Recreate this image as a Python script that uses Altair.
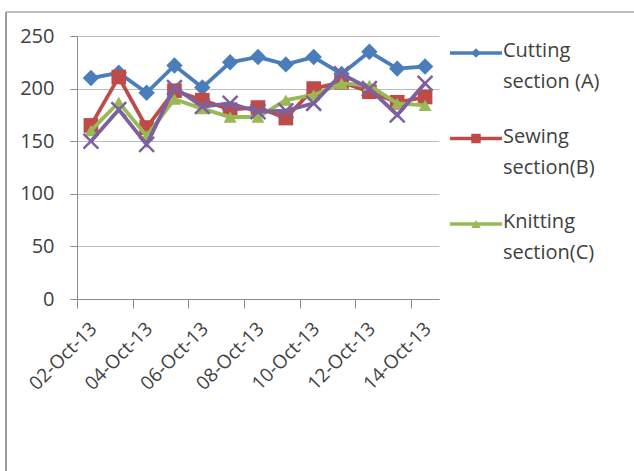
import altair as alt
import pandas as pd

dates = ["02-Oct-13", "03-Oct-13", "04-Oct-13", "05-Oct-13", "06-Oct-13", "07-Oct-13",
         "08-Oct-13", "09-Oct-13", "10-Oct-13", "11-Oct-13", "12-Oct-13", "13-Oct-13", "14-Oct-13"]
cutting = [210, 215, 196, 222, 201, 225, 230, 223, 230, 214, 235, 219, 221]
sewing = [165, 211, 163, 198, 189, 180, 182, 172, 200, 206, 197, 187, 192]
knitting = [160, 187, 155, 190, 181, 173, 173, 189, 194, 205, 203, 186, 184]
finishing = [150, 180, 147, 201, 183, 186, 178, 179, 186, 214, 200, 175, 205]

series_names = ["Cutting section (A)", "Sewing section(B)", "Knitting section(C)", "Finishing section(D)"]
series_values = [cutting, sewing, knitting, finishing]
colors = ["#4A7EBB", "#BE4B48", "#98B954", "#7D60A0"]
xpath = "M-1,-1L1,1M1,-1L-1,1"
shapes = ["diamond", "square", "triangle-up", xpath]
legend_labels = ["Cutting\nsection (A)", "Sewing\nsection(B)", "Knitting\nsection(C)"]
y_ticks = [0, 50, 100, 150, 200, 250]

rows = []
for name, vals in zip(series_names, series_values):
    for d, v in zip(dates, vals):
        rows.append({"date": d, "series": name, "value": v})
df = pd.DataFrame(rows)

W, H = 362, 263
step = W / len(dates)

color_scale = alt.Scale(domain=series_names, range=colors)
font = "Open Sans"
txt = "#404040"

x_enc = alt.X(
    "date:O", sort=dates, title=None,
    scale=alt.Scale(type="point", padding=0.5),
    axis=alt.Axis(values=dates[::2], labelAngle=-45, labelFontSize=19, labelFont=font,
                  labelColor=txt, tickOffset=-step / 2, labelOffset=step / 2 - 4,
                  tickSize=9, tickColor="#8C8C8C", domainColor="#8C8C8C",
                  labelPadding=11, grid=False, labelOverlap=False),
)
y_enc = alt.Y(
    "value:Q", title=None,
    scale=alt.Scale(domain=[0, 250]),
    axis=alt.Axis(values=y_ticks, labelFontSize=20, labelFont=font, labelColor=txt,
                  tickSize=7, tickColor="#8C8C8C", domainColor="#8C8C8C",
                  gridColor="#BDBDBD", grid=True, labelPadding=16),
)

base = alt.Chart(df)
series_layers = []
for i, name in enumerate(series_names):
    sub = base.transform_filter(alt.datum.series == name)
    line = sub.mark_line(strokeWidth=3.8).encode(
        x=x_enc, y=y_enc, color=alt.Color("series:N", scale=color_scale, legend=None))
    if shapes[i] == xpath:
        pts = sub.mark_point(shape=xpath, filled=False, size=220, strokeWidth=2.5, opacity=1).encode(
            x=x_enc, y=y_enc, color=alt.Color("series:N", scale=color_scale, legend=None))
    else:
        size = {"diamond": 270, "square": 215, "triangle-up": 170}[shapes[i]]
        pts = sub.mark_point(shape=shapes[i], filled=True, size=size, opacity=1).encode(
            x=x_enc, y=y_enc, color=alt.Color("series:N", scale=color_scale, legend=None))
    series_layers += [line, pts]

main = alt.layer(*series_layers)

leg_df = pd.DataFrame({"series": series_names[:3], "label": legend_labels})
leg_y = alt.Y("series:N", sort=series_names[:3],
              scale=alt.Scale(type="point", domain=series_names[:3], range=[17, 188], padding=0),
              axis=None)
leg_base = alt.Chart(leg_df)
leg_line = leg_base.mark_rule(strokeWidth=3.5).encode(
    x=alt.value(373), x2=alt.value(425), y=leg_y,
    color=alt.Color("series:N", scale=color_scale, legend=None))
leg_pt = leg_base.mark_point(filled=True, size=90, opacity=1).encode(
    x=alt.value(399), y=leg_y,
    color=alt.Color("series:N", scale=color_scale, legend=None),
    shape=alt.Shape("series:N", scale=alt.Scale(domain=series_names[:3], range=shapes[:3]), legend=None))
leg_txt = leg_base.transform_calculate(lines="split(datum.label, '\\n')").mark_text(
    align="left", baseline="top", dy=-12, lineHeight=31, fontSize=20, font=font, color=txt
).encode(x=alt.value(426), y=leg_y, text="lines:N")
legend = alt.layer(leg_line, leg_pt, leg_txt)

frame_df = pd.DataFrame({"k": [0]})
frame_left = alt.Chart(frame_df).mark_rule(color="#9A9A9A", strokeWidth=2).encode(
    x=alt.value(-71), y=alt.value(-24), y2=alt.value(H + 172))
frame_top = alt.Chart(frame_df).mark_rule(color="#A8A8A8", strokeWidth=1.5).encode(
    x=alt.value(-71), x2=alt.value(W + 195), y=alt.value(-24))

chart = alt.layer(main, legend, frame_left, frame_top).resolve_scale(y="independent").properties(
    width=W, height=H,
    autosize=alt.AutoSizeParams(type="none"),
    padding={"left": 77, "top": 36, "right": 195, "bottom": 172},
    background="white",
).configure_view(stroke=None)

chart.save("out.html", embed_options={"renderer": "svg", "actions": False})
